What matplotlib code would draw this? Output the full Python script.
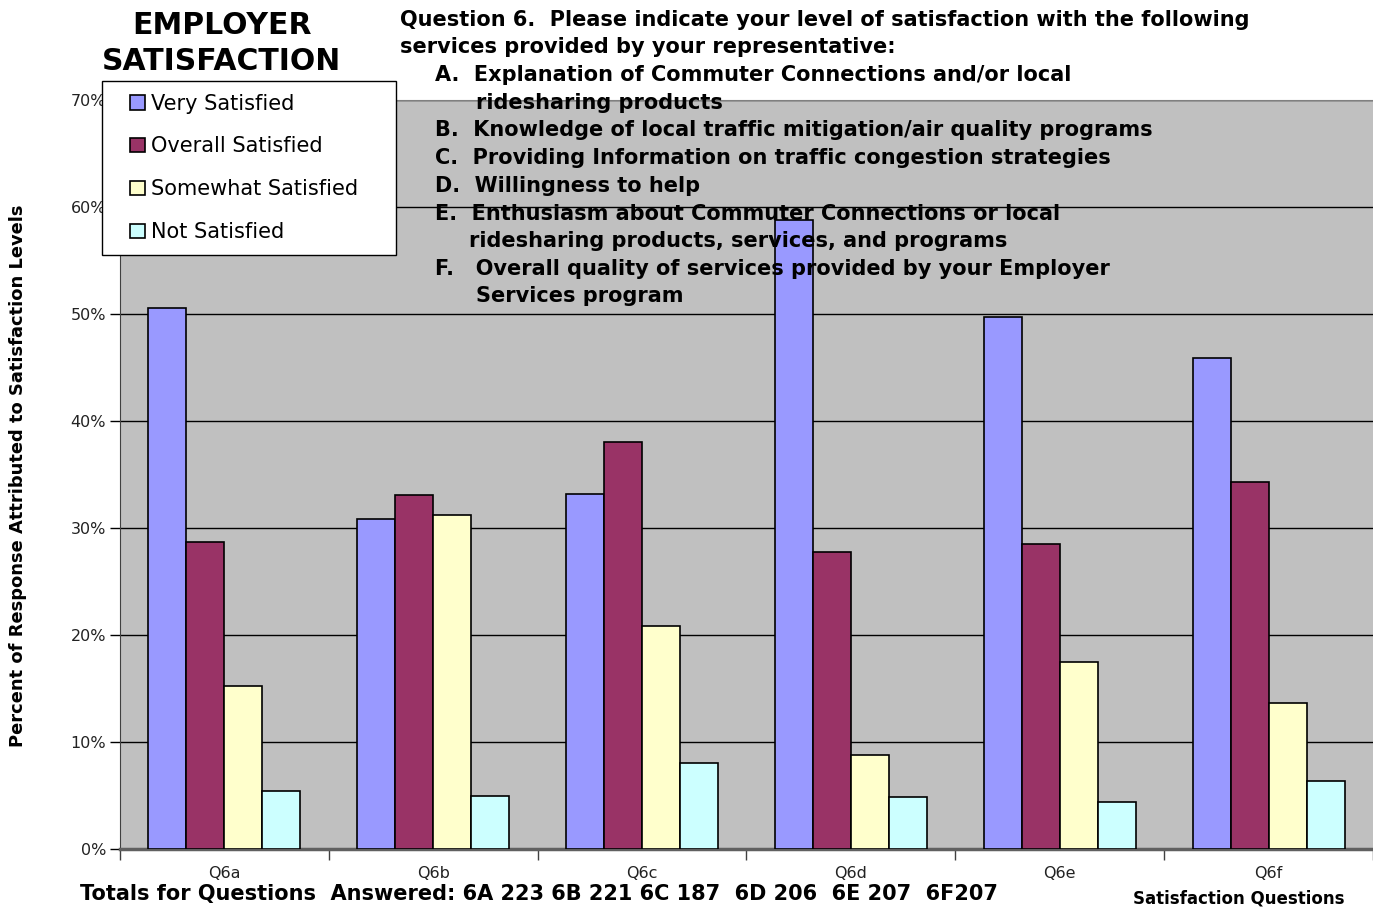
import numpy as np
import matplotlib
matplotlib.use("Agg")
import matplotlib.pyplot as plt
from matplotlib.patches import Rectangle
from matplotlib.container import BarContainer
from matplotlib.legend_handler import HandlerPatch, update_from_first_child

plt.rcParams['font.family'] = ['DejaVu Sans']

# data (percent)
questions = ['Q6a', 'Q6b', 'Q6c', 'Q6d', 'Q6e', 'Q6f']
levels = ['Very Satisfied', 'Overall Satisfied', 'Somewhat Satisfied', 'Not Satisfied']
very_satisfied = [50.6, 30.8, 33.2, 58.8, 49.7, 45.9]
overall_satisfied = [28.7, 33.1, 38.0, 27.8, 28.5, 34.3]
somewhat_satisfied = [15.2, 31.2, 20.8, 8.8, 17.5, 13.6]
not_satisfied = [5.4, 5.0, 8.0, 4.9, 4.4, 6.4]
y_ticks = [0, 10, 20, 30, 40, 50, 60, 70]

series = [very_satisfied, overall_satisfied, somewhat_satisfied, not_satisfied]
colors = ['#9999FF', '#993366', '#FFFFCC', '#CCFFFF']

W, H = 1373, 908
fig = plt.figure(figsize=(W / 100, H / 100), dpi=100)
ax = fig.add_axes([120 / W, 59 / H, 1253 / W, 749 / H])
ax.set_facecolor('#C0C0C0')

x = np.arange(len(questions))
bw = 0.182
for i, (vals, col, lab) in enumerate(zip(series, colors, levels)):
    ax.bar(x + (i - 1.5) * bw, vals, bw, color=col, edgecolor='black',
           linewidth=1.2, label=lab, zorder=3)

ax.set_xlim(-0.5, len(questions) - 0.5)
ax.set_ylim(0, 70)
ax.set_yticks(y_ticks)
ax.set_yticklabels([f'{t}%' for t in y_ticks], fontsize=11.5, color='#222222')
ax.yaxis.grid(True, color='black', linewidth=1, zorder=1)
ax.set_axisbelow(True)

ax.set_xticks(x)
ax.set_xticklabels(questions, fontsize=11.5, color='#222222')
ax.set_xticks(np.arange(-0.5, len(questions)), minor=True)
ax.tick_params(axis='x', which='major', length=0, pad=12)
ax.tick_params(axis='x', which='minor', length=8, width=1, color='#404040')
ax.tick_params(axis='y', length=7, width=1, pad=3)

ax.spines['right'].set_visible(False)
ax.spines['top'].set_color('#808080')
ax.spines['left'].set_color('#404040')
ax.spines['bottom'].set_color('#606060')
ax.spines['bottom'].set_linewidth(2.5)


def square_patch(legend, orig_handle, xdescent, ydescent, width, height, fontsize):
    side = 0.7 * fontsize
    return Rectangle((width - side - xdescent, -ydescent + (height - side) / 2),
                     side, side)


# legend
fig.legend(loc='upper left', bbox_to_anchor=(102 / W, 1 - 253 / H, 294 / W, 172 / H),
           mode='expand', fontsize=15, frameon=True, fancybox=False,
           edgecolor='black', framealpha=1, borderpad=0.6, labelspacing=1.1,
           handlelength=1.45, handleheight=0.7, handletextpad=0.28,
           borderaxespad=0,
           handler_map={BarContainer: HandlerPatch(patch_func=square_patch,
                                                   update_func=update_from_first_child)})

# titles and annotations
fig.text(222 / W, 1 - 25 / H, 'EMPLOYER', ha='center', va='center',
         fontsize=21.5, fontweight='bold')
fig.text(222 / W, 1 - 62 / H, 'SATISFACTION', ha='center', va='center',
         fontsize=21.5, fontweight='bold')

question_lines = [
    (400, 20, 'Question 6.  Please indicate your level of satisfaction with the following'),
    (400, 47, 'services provided by your representative:'),
    (435, 75, 'A.  Explanation of Commuter Connections and/or local'),
    (476, 103, 'ridesharing products'),
    (435, 130, 'B.  Knowledge of local traffic mitigation/air quality programs'),
    (435, 158, 'C.  Providing Information on traffic congestion strategies'),
    (435, 186, 'D.  Willingness to help'),
    (435, 214, 'E.  Enthusiasm about Commuter Connections or local'),
    (469, 241, 'ridesharing products, services, and programs'),
    (435, 269, 'F.   Overall quality of services provided by your Employer'),
    (476, 296, 'Services program'),
]
for px, py, txt in question_lines:
    fig.text(px / W, 1 - py / H, txt, ha='left', va='center',
             fontsize=15, fontweight='bold', zorder=10)

fig.text(18 / W, 1 - 476 / H, 'Percent of Response Attributed to Satisfaction Levels',
         rotation=90, ha='center', va='center', fontsize=12.9, fontweight='bold')
fig.text(80 / W, 1 - 894 / H,
         'Totals for Questions  Answered: 6A 223 6B 221 6C 187  6D 206  6E 207  6F207',
         ha='left', va='center', fontsize=15, fontweight='bold')
fig.text(1239 / W, 1 - 899 / H, 'Satisfaction Questions', ha='center', va='center',
         fontsize=12, fontweight='bold')

fig.savefig('out.png', dpi=100)
